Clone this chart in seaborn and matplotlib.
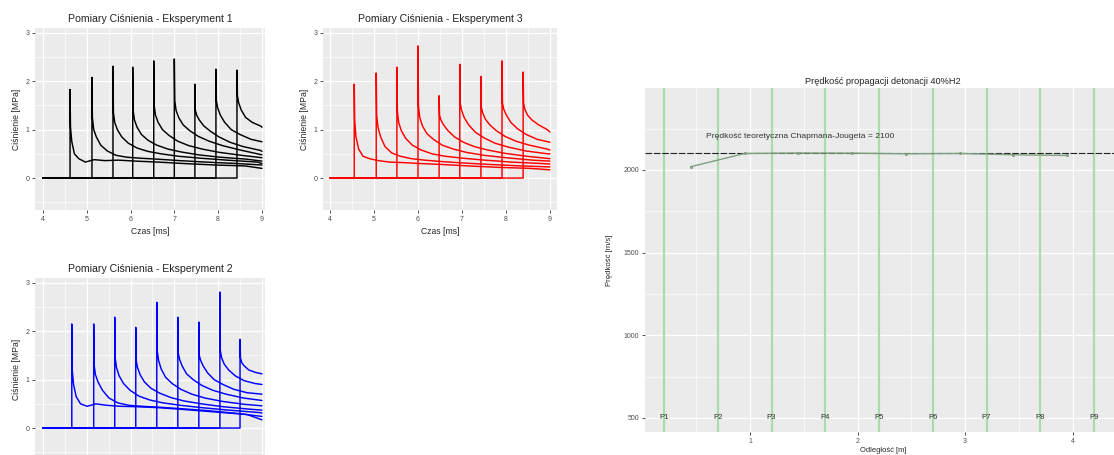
import numpy as np
import pandas as pd
import matplotlib
matplotlib.use("Agg")
import matplotlib.pyplot as plt
from matplotlib.ticker import FixedLocator
import seaborn as sns

# ---------------- pressure traces (time in ms, pressure in MPa) ----------------
T_START = 4.0
T_END = 9.0
OFFSETS = [0, 0.01, 0.04, 0.1, 0.2, 0.35, 0.55, 0.8, 1.1, 1.5, 2.0, 2.6, 3.3, 4.0]
TIME_TICKS = [4, 5, 6, 7, 8, 9]
PRESSURE_TICKS = [0, 1, 2, 3]

exp1_arrival = [4.62, 5.12, 5.60, 6.05, 6.53, 7.00, 7.47, 7.95, 8.43]
exp1_values = [
    [1.83, 1.05, 0.75, 0.50, 0.40, 0.33, 0.38, 0.36, 0.37, 0.35, 0.33, 0.30, 0.27, 0.25],
    [2.08, 1.25, 1.00, 0.85, 0.68, 0.56, 0.47, 0.43, 0.41, 0.39, 0.36, 0.33, 0.30],
    [2.31, 1.35, 1.15, 1.00, 0.85, 0.72, 0.62, 0.55, 0.50, 0.45, 0.41, 0.37, 0.33],
    [2.29, 1.40, 1.20, 1.05, 0.90, 0.78, 0.68, 0.60, 0.54, 0.48, 0.43, 0.39],
    [2.42, 1.50, 1.30, 1.15, 1.00, 0.88, 0.76, 0.67, 0.60, 0.53, 0.47],
    [2.46, 1.60, 1.40, 1.25, 1.10, 0.98, 0.86, 0.76, 0.67, 0.58],
    [1.94, 1.40, 1.30, 1.20, 1.08, 0.97, 0.85, 0.74, 0.65, 0.57],
    [2.25, 1.60, 1.45, 1.30, 1.15, 1.00, 0.90, 0.80],
    [2.23, 1.70, 1.55, 1.40, 1.25, 1.15, 1.07],
]
exp1_end = [0.20, 0.27, 0.30, 0.35, 0.42, 0.48, 0.55, 0.75, 1.05]

exp2_arrival = [4.66, 5.16, 5.64, 6.12, 6.60, 7.08, 7.56, 8.04, 8.50]
exp2_values = [
    [2.15, 1.20, 0.90, 0.65, 0.50, 0.45, 0.50, 0.47, 0.45, 0.44, 0.42, 0.38, 0.33, 0.28],
    [2.15, 1.30, 1.10, 0.95, 0.78, 0.62, 0.52, 0.47, 0.45, 0.43, 0.40, 0.36, 0.30],
    [2.29, 1.45, 1.25, 1.08, 0.92, 0.78, 0.66, 0.58, 0.52, 0.47, 0.42, 0.37, 0.32],
    [2.08, 1.40, 1.25, 1.10, 0.95, 0.82, 0.72, 0.63, 0.56, 0.50, 0.44, 0.39],
    [2.60, 1.60, 1.40, 1.22, 1.05, 0.92, 0.80, 0.70, 0.62, 0.55, 0.49],
    [2.29, 1.55, 1.42, 1.28, 1.12, 1.00, 0.88, 0.78, 0.70, 0.62],
    [2.19, 1.50, 1.40, 1.28, 1.14, 1.00, 0.90, 0.80, 0.73],
    [2.81, 1.60, 1.45, 1.32, 1.20, 1.08, 0.98, 0.92],
    [1.83, 1.45, 1.35, 1.28, 1.20, 1.15],
]
exp2_end = [0.17, 0.24, 0.31, 0.37, 0.46, 0.57, 0.70, 0.90, 1.12]

exp3_arrival = [4.55, 5.05, 5.52, 6.00, 6.48, 6.95, 7.43, 7.91, 8.39]
exp3_values = [
    [1.94, 1.20, 0.85, 0.60, 0.45, 0.40, 0.36, 0.33, 0.32, 0.30, 0.28, 0.25, 0.22, 0.20],
    [2.17, 1.30, 1.05, 0.85, 0.65, 0.52, 0.45, 0.40, 0.37, 0.34, 0.31, 0.28, 0.25],
    [2.29, 1.40, 1.15, 0.98, 0.82, 0.68, 0.58, 0.50, 0.45, 0.41, 0.37, 0.33, 0.30],
    [2.73, 1.50, 1.25, 1.08, 0.92, 0.80, 0.68, 0.60, 0.53, 0.47, 0.42, 0.37],
    [1.70, 1.30, 1.20, 1.10, 0.98, 0.85, 0.74, 0.65, 0.58, 0.51, 0.45],
    [2.35, 1.55, 1.40, 1.25, 1.10, 0.95, 0.83, 0.72, 0.64, 0.56, 0.50],
    [2.10, 1.45, 1.35, 1.22, 1.10, 0.98, 0.86, 0.76, 0.68, 0.60],
    [2.42, 1.55, 1.42, 1.30, 1.15, 1.02, 0.90, 0.80],
    [2.19, 1.55, 1.42, 1.30, 1.20, 1.10, 1.00],
]
exp3_end = [0.17, 0.23, 0.29, 0.35, 0.40, 0.50, 0.58, 0.74, 0.95]

# ---------------- detonation velocity ----------------
sensor_names = ["P1", "P2", "P3", "P4", "P5", "P6", "P7", "P8", "P9"]
sensor_pos = [0.2, 0.7, 1.2, 1.7, 2.2, 2.7, 3.2, 3.7, 4.2]
velocity_pos = [0.45, 0.95, 1.45, 1.95, 2.45, 2.95, 3.45, 3.95]
velocity = [2020, 2100, 2103, 2102, 2098, 2100, 2092, 2088]
cj_velocity = 2100
distance_ticks = [1, 2, 3, 4]
velocity_ticks = [500, 1000, 1500, 2000]

BG = "#EBEBEB"
TXT = "#4D4D4D"

sns.set_theme(style="darkgrid", rc={
    "axes.facecolor": BG,
    "grid.color": "white",
    "axes.edgecolor": BG,
})
plt.rcParams["font.family"] = ["Liberation Sans", "DejaVu Sans"]


def traces_frame(arrivals, values, ends):
    rows = []
    for k, (arr, vals, end) in enumerate(zip(arrivals, values, ends)):
        rows.append((k, T_START, 0.0))
        rows.append((k, arr, 0.0))
        for off, v in zip(OFFSETS, vals):
            rows.append((k, arr + off, v))
        rows.append((k, T_END, end))
    return pd.DataFrame(rows, columns=["czujnik", "czas", "cisnienie"])


def gg_axes(ax, xmajor, ymajor, xminor, yminor):
    ax.xaxis.set_major_locator(FixedLocator(xmajor))
    ax.yaxis.set_major_locator(FixedLocator(ymajor))
    ax.xaxis.set_minor_locator(FixedLocator(xminor))
    ax.yaxis.set_minor_locator(FixedLocator(yminor))
    ax.grid(which="major", color="white", linewidth=0.9)
    ax.grid(which="minor", color="white", linewidth=0.45)
    ax.set_axisbelow(True)
    for s in ax.spines.values():
        s.set_visible(False)
    ax.tick_params(which="major", length=2.5, width=0.6, color="#333333",
                   labelsize=5, labelcolor=TXT, pad=1.5,
                   bottom=True, left=True)
    ax.tick_params(which="minor", length=0)


def pressure_panel(ax, arrivals, values, ends, color, title, xlim):
    df = traces_frame(arrivals, values, ends)
    sns.lineplot(data=df, x="czas", y="cisnienie", units="czujnik",
                 estimator=None, sort=False, color=color, linewidth=1.05, ax=ax)
    ax.set_xlim(*xlim)
    ax.set_ylim(-0.66, 3.1)
    gg_axes(ax, TIME_TICKS, PRESSURE_TICKS,
            [4.5, 5.5, 6.5, 7.5, 8.5], [-0.5, 0.5, 1.5, 2.5])
    ax.set_title(title, fontsize=7.6, pad=4, color="#222222")
    ax.set_xlabel("Czas [ms]", fontsize=6.2, labelpad=3)
    ax.set_ylabel("Ciśnienie [MPa]", fontsize=6.2, labelpad=3)


fig = plt.figure(figsize=(11.14, 4.55), dpi=100)
W, H = 1114.0, 455.0


def box(x0, y0, x1, y1):
    return [x0 / W, 1 - y1 / H, (x1 - x0) / W, (y1 - y0) / H]


ax1 = fig.add_axes(box(35, 28, 265, 210))
ax3 = fig.add_axes(box(323, 28, 557, 210))
ax2 = fig.add_axes(box(35, 278, 265, 460))
axv = fig.add_axes(box(645, 88, 1121, 432))

pressure_panel(ax1, exp1_arrival, exp1_values, exp1_end, "black",
               "Pomiary Ciśnienia - Eksperyment 1", (3.82, 9.07))
pressure_panel(ax3, exp3_arrival, exp3_values, exp3_end, "#FF0000",
               "Pomiary Ciśnienia - Eksperyment 3", (3.84, 9.16))
pressure_panel(ax2, exp2_arrival, exp2_values, exp2_end, "#0000FF",
               "Pomiary Ciśnienia - Eksperyment 2", (3.82, 9.07))
# the lower panel runs past the bottom edge of the figure: no x-axis text there
ax2.tick_params(axis="x", labelbottom=False, length=0)
ax2.set_xlabel("")

# velocity panel
axv.set_xlim(0.023, 4.45)
axv.set_ylim(415, 2496)
gg_axes(axv, distance_ticks, velocity_ticks,
        [0.5, 1.5, 2.5, 3.5], [750, 1250, 1750, 2250])
for name, pos in zip(sensor_names, sensor_pos):
    axv.axvline(pos, color="#a9dca9", linewidth=1.6, zorder=1)
    axv.text(pos, velocity_ticks[0], name, fontsize=5.6, color="#333333",
             ha="center", va="center", zorder=3)
axv.axhline(cj_velocity, color="#222222", linewidth=0.8, linestyle=(0, (6, 1.5)),
            zorder=2)
axv.text(1.47, cj_velocity + 100,
         f"Prędkość teoretyczna Chapmana-Jougeta = {cj_velocity}",
         fontsize=6.1, color="#333333", ha="center", va="center")
vdf = pd.DataFrame({"odleglosc": velocity_pos, "predkosc": velocity})
sns.lineplot(data=vdf, x="odleglosc", y="predkosc", color="#7f9f7f",
             linewidth=1.0, marker="o", markersize=2.2, markeredgewidth=0,
             ax=axv, zorder=4)
axv.set_title("Prędkość propagacji detonacji 40%H2", fontsize=6.6, pad=3,
              color="#222222")
axv.set_xlabel("Odległość [m]", fontsize=5.4, labelpad=1.5)
axv.set_ylabel("Prędkość [m/s]", fontsize=5.6, labelpad=8)

fig.savefig("out.png", dpi=100)
